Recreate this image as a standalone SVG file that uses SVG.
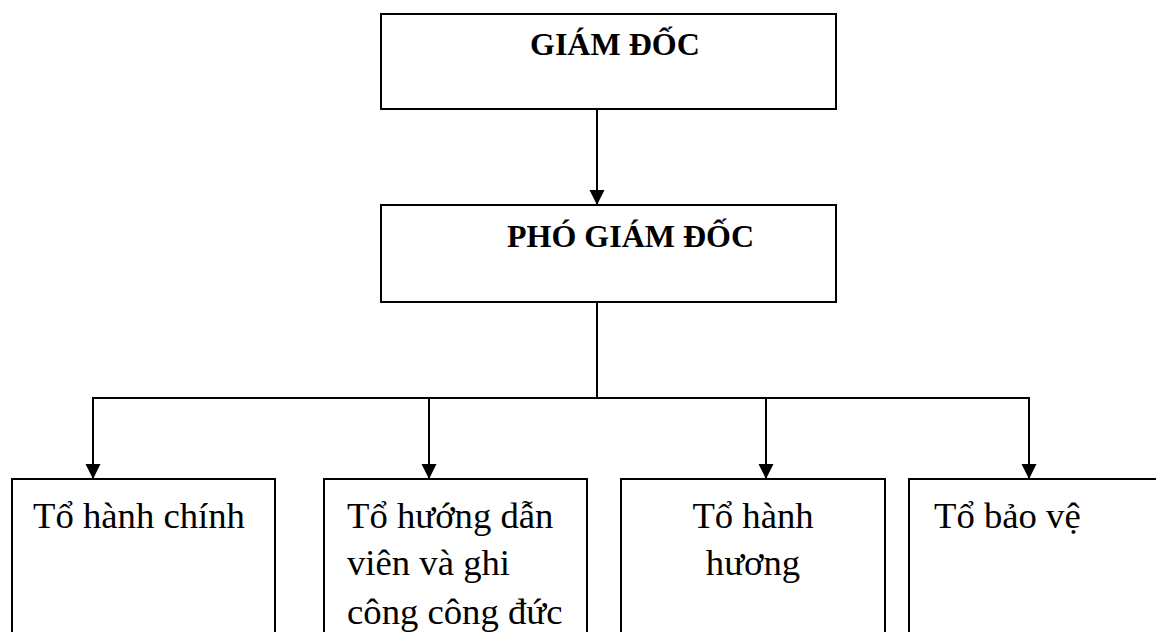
<svg xmlns="http://www.w3.org/2000/svg" width="1156" height="632" viewBox="0 0 1156 632">
<style>
.box{fill:#fff;stroke:#000;stroke-width:2}
.ln{fill:none;stroke:#000;stroke-width:2}
.hd{font-weight:bold;font-size:32px;fill:#000}
.tx{font-size:36.7px;fill:#000}
</style>
<defs>
<marker id="ah" markerWidth="16" markerHeight="16" refX="15" refY="7.5" orient="auto" markerUnits="userSpaceOnUse">
<path d="M0,0 L15,7.5 L0,15 Z" fill="#000"/>
</marker>
</defs>
<rect width="1156" height="632" fill="#fff"/>
<g id="connectors">
<line class="ln" x1="597" y1="109" x2="597" y2="205" marker-end="url(#ah)"/>
<line class="ln" x1="597" y1="302" x2="597" y2="398"/>
<line class="ln" x1="93" y1="398" x2="1030" y2="398"/>
<line class="ln" x1="93" y1="397" x2="93" y2="479" marker-end="url(#ah)"/>
<line class="ln" x1="429" y1="397" x2="429" y2="479" marker-end="url(#ah)"/>
<line class="ln" x1="766" y1="397" x2="766" y2="479" marker-end="url(#ah)"/>
<line class="ln" x1="1029" y1="397" x2="1029" y2="479" marker-end="url(#ah)"/>
</g>
<g font-family="Liberation Serif, DejaVu Serif, serif">
<g id="giam-doc">
<rect class="box" x="381" y="14" width="455" height="95"/>
<text class="hd" x="530" y="55">GIÁM ĐỐC</text>
</g>
<g id="pho-giam-doc">
<rect class="box" x="381" y="205" width="455" height="97"/>
<text class="hd" x="507" y="247">PHÓ GIÁM ĐỐC</text>
</g>
<g id="to-hanh-chinh">
<rect class="box" x="12" y="479" width="263" height="170"/>
<text class="tx" x="33" y="528">Tổ hành chính</text>
</g>
<g id="to-huong-dan">
<rect class="box" x="324" y="479" width="263" height="170"/>
<text class="tx" x="347" y="528">Tổ hướng dẫn</text>
<text class="tx" x="347" y="575">viên và ghi</text>
<text class="tx" x="347" y="624">công công đức</text>
</g>
<g id="to-hanh-huong">
<rect class="box" x="621" y="479" width="264" height="170"/>
<text class="tx" x="753" y="528" text-anchor="middle">Tổ hành</text>
<text class="tx" x="753" y="575" text-anchor="middle">hương</text>
</g>
<g id="to-bao-ve">
<rect class="box" x="909" y="479" width="270" height="170"/>
<text class="tx" x="934" y="528">Tổ bảo vệ</text>
</g>
</g>
</svg>
